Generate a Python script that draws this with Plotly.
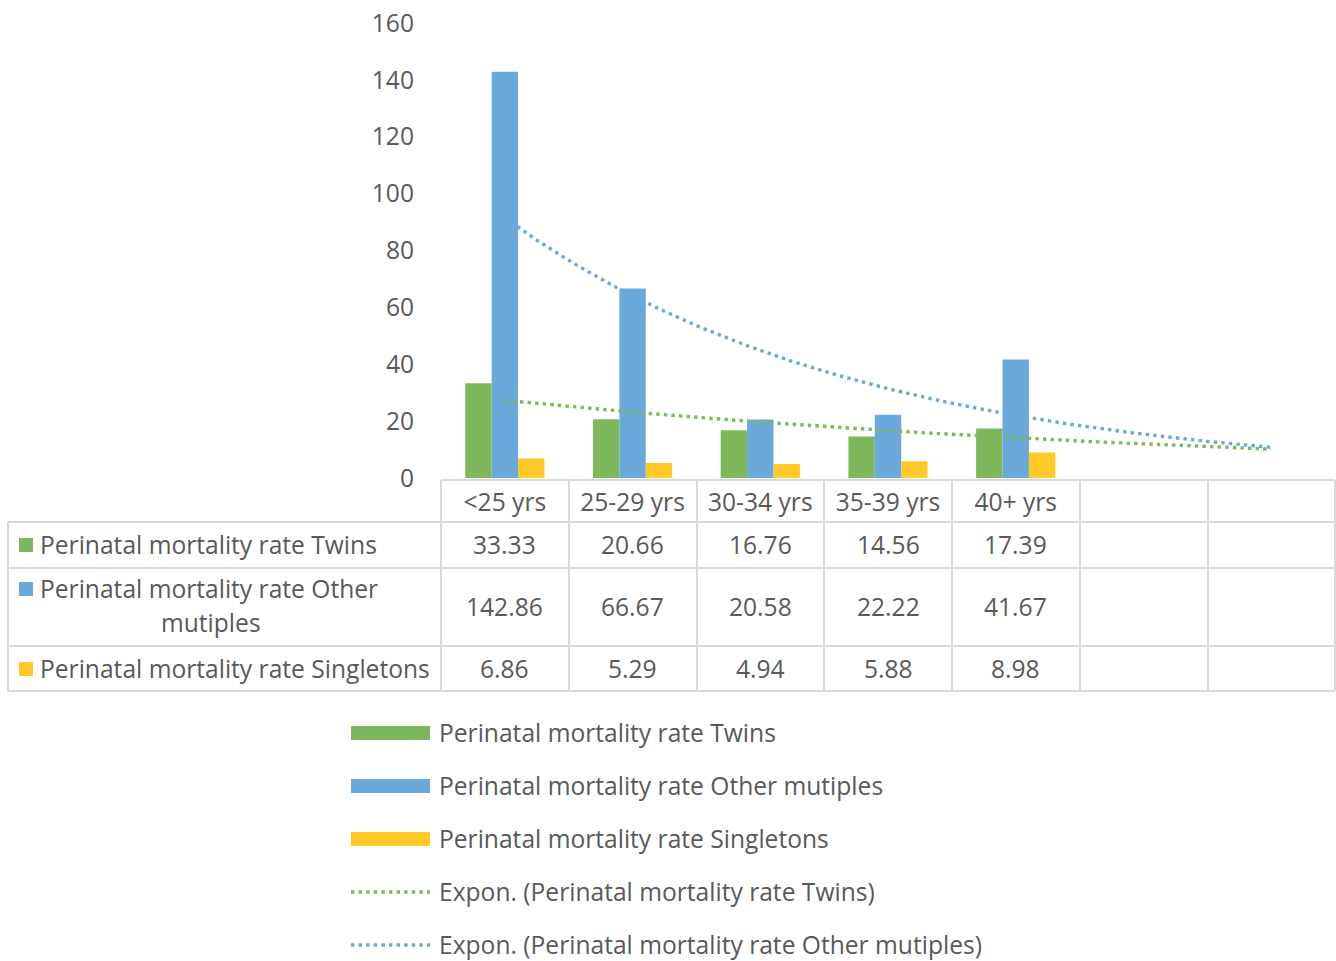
import numpy as np
import plotly.graph_objects as go

# ---- data ----
categories = ["<25 yrs", "25-29 yrs", "30-34 yrs", "35-39 yrs", "40+ yrs"]
twins = [33.33, 20.66, 16.76, 14.56, 17.39]
other_multiples = [142.86, 66.67, 20.58, 22.22, 41.67]
singletons = [6.86, 5.29, 4.94, 5.88, 8.98]
forecast_periods = 2
y_ticks = [0, 20, 40, 60, 80, 100, 120, 140, 160]

series_names = [
    "Perinatal mortality rate Twins",
    "Perinatal mortality rate Other mutiples",
    "Perinatal mortality rate Singletons",
]

# ---- styling ----
W, H = 1336, 961
FONT = "Open Sans"
TXT = "#595959"
GRID = "#d9d9d9"
GREEN = "#7db85d"
BLUE = "#69a9dc"
YELLOW = "#ffc928"
FS = 24.6


def px(x):
    return x / W


def py(y):
    return 1 - y / H


n_cat = len(categories) + forecast_periods
xs = list(range(len(categories)))

fig = go.Figure()
for name, vals, col in zip(series_names, [twins, other_multiples, singletons], [GREEN, BLUE, YELLOW]):
    fig.add_trace(go.Bar(x=xs, y=vals, name=name, marker=dict(color=col, line=dict(width=0)),
                         showlegend=False, hoverinfo="x+y"))


# exponential trendlines (least squares on log values), extended by the forecast periods
def expon_trend(vals):
    xfit = np.arange(1, len(vals) + 1)
    b, a = np.polyfit(xfit, np.log(vals), 1)
    xt = np.linspace(1, len(vals) + forecast_periods, 200)
    return xt - 1, np.exp(a + b * xt)


DOT = "3.4px,4.2px"
for vals, col in [(twins, GREEN), (other_multiples, BLUE)]:
    tx, ty = expon_trend(vals)
    fig.add_trace(go.Scatter(x=tx, y=ty, mode="lines", line=dict(color=col, width=3.4, dash=DOT),
                             showlegend=False, hoverinfo="skip"))

shapes = []
annotations = []


def text(x, y, t, anchor="left", **kw):
    d = dict(x=x, y=y, xref="paper", yref="paper", text=t, showarrow=False,
             xanchor=anchor, yanchor="middle", font=dict(family=FONT, size=FS, color=TXT))
    d.update(kw)
    annotations.append(d)


# ---- data table grid ----
col_edges = [441, 569, 697, 824, 952, 1080, 1208, 1335]
shapes.append(dict(type="line", xref="paper", yref="paper", x0=px(441), x1=px(1335), y0=py(480), y1=py(480),
                   line=dict(color=GRID, width=2)))
for yy in [522, 568, 646, 691]:
    shapes.append(dict(type="line", xref="paper", yref="paper", x0=px(8), x1=px(1335), y0=py(yy), y1=py(yy),
                       line=dict(color=GRID, width=2)))
shapes.append(dict(type="line", xref="paper", yref="paper", x0=px(8), x1=px(8), y0=py(522), y1=py(691),
                   line=dict(color=GRID, width=2)))
for xx in col_edges:
    shapes.append(dict(type="line", xref="paper", yref="paper", x0=px(xx), x1=px(xx), y0=py(480), y1=py(691),
                       line=dict(color=GRID, width=2)))

# row labels with colour keys
row_centers = [544, 606, 668]
key_centers = [545, 589, 669]
for kc, col in zip(key_centers, [GREEN, BLUE, YELLOW]):
    shapes.append(dict(type="rect", xref="paper", yref="paper", x0=px(19), x1=px(33), y0=py(kc + 7), y1=py(kc - 7),
                       fillcolor=col, line=dict(width=0)))
text(px(38), py(544), "Perinatal mortality rate Twins")
text(px(38), py(588), "Perinatal mortality rate Other")
text(px(211), py(622), "mutiples", anchor="center")
text(px(38), py(668), "Perinatal mortality rate Singletons")

# table values
for vals, rc in zip([twins, other_multiples, singletons], row_centers):
    for i, v in enumerate(vals):
        annotations.append(dict(x=i, y=py(rc), xref="x", yref="paper", text=f"{v:.2f}", showarrow=False,
                                xanchor="center", yanchor="middle",
                                font=dict(family=FONT, size=FS, color=TXT)))

# ---- legend ----
leg_rows = [733, 786, 839, 892, 945]
leg_texts = series_names + [
    "Expon. (Perinatal mortality rate Twins)",
    "Expon. (Perinatal mortality rate Other mutiples)",
]
leg_cols = [GREEN, BLUE, YELLOW, GREEN, BLUE]
for k, (yy, t, c) in enumerate(zip(leg_rows, leg_texts, leg_cols)):
    if k < 3:
        shapes.append(dict(type="rect", xref="paper", yref="paper", x0=px(351), x1=px(430),
                           y0=py(yy + 7), y1=py(yy - 7), fillcolor=c, line=dict(width=0)))
    else:
        shapes.append(dict(type="line", xref="paper", yref="paper", x0=px(351), x1=px(430),
                           y0=py(yy), y1=py(yy), line=dict(color=c, width=3.4, dash=DOT)))
    text(px(437), py(yy - 1), t)

fig.update_layout(
    width=W, height=H, autosize=False,
    margin=dict(l=0, r=0, t=0, b=0, autoexpand=False),
    paper_bgcolor="white", plot_bgcolor="white",
    barmode="group", bargap=0.38, bargroupgap=0,
    font=dict(family=FONT, size=FS, color=TXT),
    shapes=shapes, annotations=annotations,
    xaxis=dict(domain=[px(441), px(1335)], range=[-0.5, n_cat - 0.5], automargin=False,
               tickmode="array", tickvals=list(range(n_cat)),
               ticktext=categories + [""] * forecast_periods,
               showgrid=False, zeroline=False, showline=False, ticks="",
               ticklabelstandoff=7, tickfont=dict(family=FONT, size=FS, color=TXT)),
    yaxis=dict(domain=[py(478), py(23)], range=[0, 160], automargin=False,
               tickmode="array", tickvals=y_ticks,
               showgrid=False, zeroline=False, showline=False, ticks="",
               ticklabelstandoff=26, tickfont=dict(family=FONT, size=FS, color=TXT)),
)

fig.write_html("out.html")
